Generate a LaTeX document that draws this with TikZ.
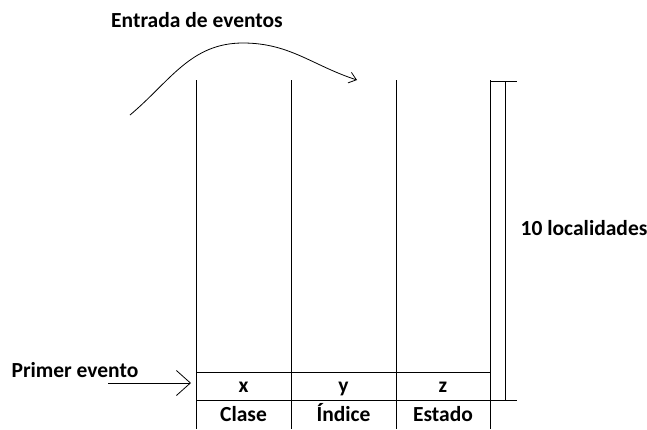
\documentclass[tikz,border=0pt]{standalone}
\usepackage{fontspec}
\setmainfont{Carlito}
\usetikzlibrary{arrows.meta}
\begin{document}
\begin{tikzpicture}[x=1pt,y=-1pt,
  ln/.style={line width=0.8pt,black},
  lbl/.style={font=\fontsize{21.5}{25}\selectfont\bfseries, inner sep=0pt},
  cell/.style={font=\fontsize{21.5}{25}\selectfont\bfseries, inner sep=0pt, anchor=base}]
\useasboundingbox (0,0) rectangle (647,429);
% columns
\foreach \n/\x in {a/196,b/291,c/396,d/490}{
  \coordinate (\n t) at (\x,80);
  \coordinate (\n b) at (\x,429);
  \draw[ln] (\n t) -- (\n b);
}
% horizontals
\coordinate (h1l) at (196,372); \coordinate (h1r) at (490,372);
\coordinate (h2l) at (196,400); \coordinate (h2r) at (517,400);
\draw[ln] (h1l) -- (h1r);
\draw[ln] (h2l) -- (h2r);
% bracket
\coordinate (bt1) at (490,81); \coordinate (bt2) at (517,81);
\coordinate (bi1) at (505,81); \coordinate (bi2) at (505,400);
\draw[ln] (bt1) -- (bt2);
\draw[ln] (bi1) -- (bi2);
% texts
\node[lbl] (entrada) at (197,20) {Entrada de eventos};
\node[lbl] (primer) at (75,370) {Primer evento};
\node[lbl] (loc) at (584,228) {10 localidades};
\node[cell] (x) at (243.5,392) {x};
\node[cell] (y) at (343.5,392) {y};
\node[cell] (z) at (443,392) {z};
\node[cell] (clase) at (243.5,421) {Clase};
\node[cell] (indice) at (343.5,421) {Índice};
\node[cell] (estado) at (443,421) {Estado};
% arrows
\coordinate (cs) at (130,115);
\coordinate (cp) at (243,43);
\coordinate (ce) at (357,80);
\draw[ln,-{Straight Barb[length=7pt,width=11pt]}] (cs) to[out=40,in=180] (cp) to[out=0,in=162] (ce);
\coordinate (ps) at (108,383);
\coordinate (pe) at (191,383);
\draw[ln,-{Straight Barb[length=14pt,width=25pt]}] (ps) -- (pe);
\end{tikzpicture}
\end{document}
